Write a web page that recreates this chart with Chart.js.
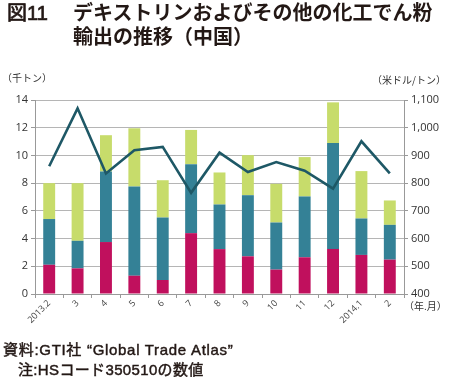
<!DOCTYPE html>
<html><head><meta charset="utf-8">
<script src="https://cdn.jsdelivr.net/npm/chart.js@4"></script>
<style>
html,body{margin:0;padding:0;width:450px;height:377px;overflow:hidden;background:#fff;font-family:"Noto Sans CJK JP",sans-serif;color:#231815;}
#wrap{position:absolute;left:0;top:0;width:450px;height:377px;}
.t{position:absolute;white-space:nowrap;}
.lat{font-family:"Liberation Sans","Noto Sans CJK JP",sans-serif;}
.med{-webkit-text-stroke:0.45px #231815;}
</style></head><body>
<div id="wrap"><canvas id="c" width="450" height="377"></canvas></div>
<div class="t lat med" style="left:7px;top:-3px;font-size:20px;-webkit-text-stroke:0.7px #231815;">図11</div>
<div class="t" style="left:73px;top:-3px;font-size:20px;font-weight:bold;">デキストリンおよびその他の化工でん粉</div>
<div class="t" style="left:73px;top:21px;font-size:20px;font-weight:bold;">輸出の推移（中国）</div>
<div class="t" style="left:2px;top:70px;font-size:10px;color:#333;">（千トン）</div>
<div class="t" style="left:372px;top:72px;font-size:10px;color:#333;">（米ドル/トン）</div>
<div class="t" style="left:404px;top:298px;font-size:10px;color:#333;">（年.月）</div>
<div class="t lat med" style="left:3px;top:338px;font-size:15px;letter-spacing:0.7px;">資料:GTI社 “Global Trade Atlas”</div>
<div class="t lat med" style="left:18px;top:358px;font-size:15px;letter-spacing:0.35px;">注:HSコード350510の数値</div>
<script>
const categories = ["2013.2","3","4","5","6","7","8","9","10","11","12","2014.1","2"];
const seriesA = [2.11,1.85,3.75,1.32,1.01,4.39,3.24,2.72,1.76,2.65,3.25,2.82,2.48];
const seriesB = [3.30,1.99,5.09,6.44,4.51,4.98,3.22,4.41,3.40,4.39,7.64,2.63,2.51];
const seriesC = [2.59,4.16,2.62,4.20,2.69,2.47,2.31,2.89,2.79,2.84,2.94,3.42,1.76];
const unitPrice = [861,1070,835,919,931,765,910,840,876,845,780,951,835];
const leftTicks = [0,2,4,6,8,10,12,14];
const rightTicks = [400,500,600,700,800,900,1000,1100];

const tickFont = {family:"'Open Sans','DejaVu Sans',sans-serif", size:11};
new Chart(document.getElementById('c'), {
  data: {
    labels: categories,
    datasets: [
      {type:'line', label:'単価', data:unitPrice, yAxisID:'y2', borderColor:'#1e5866', borderWidth:2.6, pointRadius:0, tension:0, order:0},
      {type:'bar', label:'A', data:seriesA, yAxisID:'y', backgroundColor:'#c0105d', stack:'s', order:1, barPercentage:0.42, categoryPercentage:1},
      {type:'bar', label:'B', data:seriesB, yAxisID:'y', backgroundColor:'#348196', stack:'s', order:1, barPercentage:0.42, categoryPercentage:1},
      {type:'bar', label:'C', data:seriesC, yAxisID:'y', backgroundColor:'#c7dc6b', stack:'s', order:1, barPercentage:0.42, categoryPercentage:1}
    ]
  },
  options: {
    responsive:false, animation:false, devicePixelRatio:1,
    layout:{padding:{top:100,left:0,right:0,bottom:43}},
    plugins:{legend:{display:false}, tooltip:{enabled:false}},
    scales:{
      x:{stacked:true, offset:true,
        grid:{offset:true, drawOnChartArea:false, drawTicks:true, tickLength:4, color:'#999'},
        border:{color:'#999'},
        ticks:{font:{family:"'Open Sans','DejaVu Sans',sans-serif",size:9}, color:'#444', minRotation:45, maxRotation:45, padding:0},
        afterFit:(s)=>{s.height=40;}
      },
      y:{position:'left', stacked:true, min:0, max:14,
        afterBuildTicks:(s)=>{s.ticks=leftTicks.map(v=>({value:v}));},
        grid:{color:'#b5b5b5', lineWidth:1, tickLength:4, tickColor:'#999'},
        border:{color:'#999'},
        ticks:{font:tickFont, color:'#333', padding:3},
        afterFit:(s)=>{s.width=35;}
      },
      y2:{position:'right', min:400, max:1100,
        afterBuildTicks:(s)=>{s.ticks=rightTicks.map(v=>({value:v}));},
        grid:{drawOnChartArea:false, tickLength:4, color:'#999'},
        border:{color:'#999'},
        ticks:{font:tickFont, color:'#333', padding:3, callback:(v)=>v.toLocaleString('en-US')},
        afterFit:(s)=>{s.width=46;}
      }
    }
  }
});
</script>
</body></html>
